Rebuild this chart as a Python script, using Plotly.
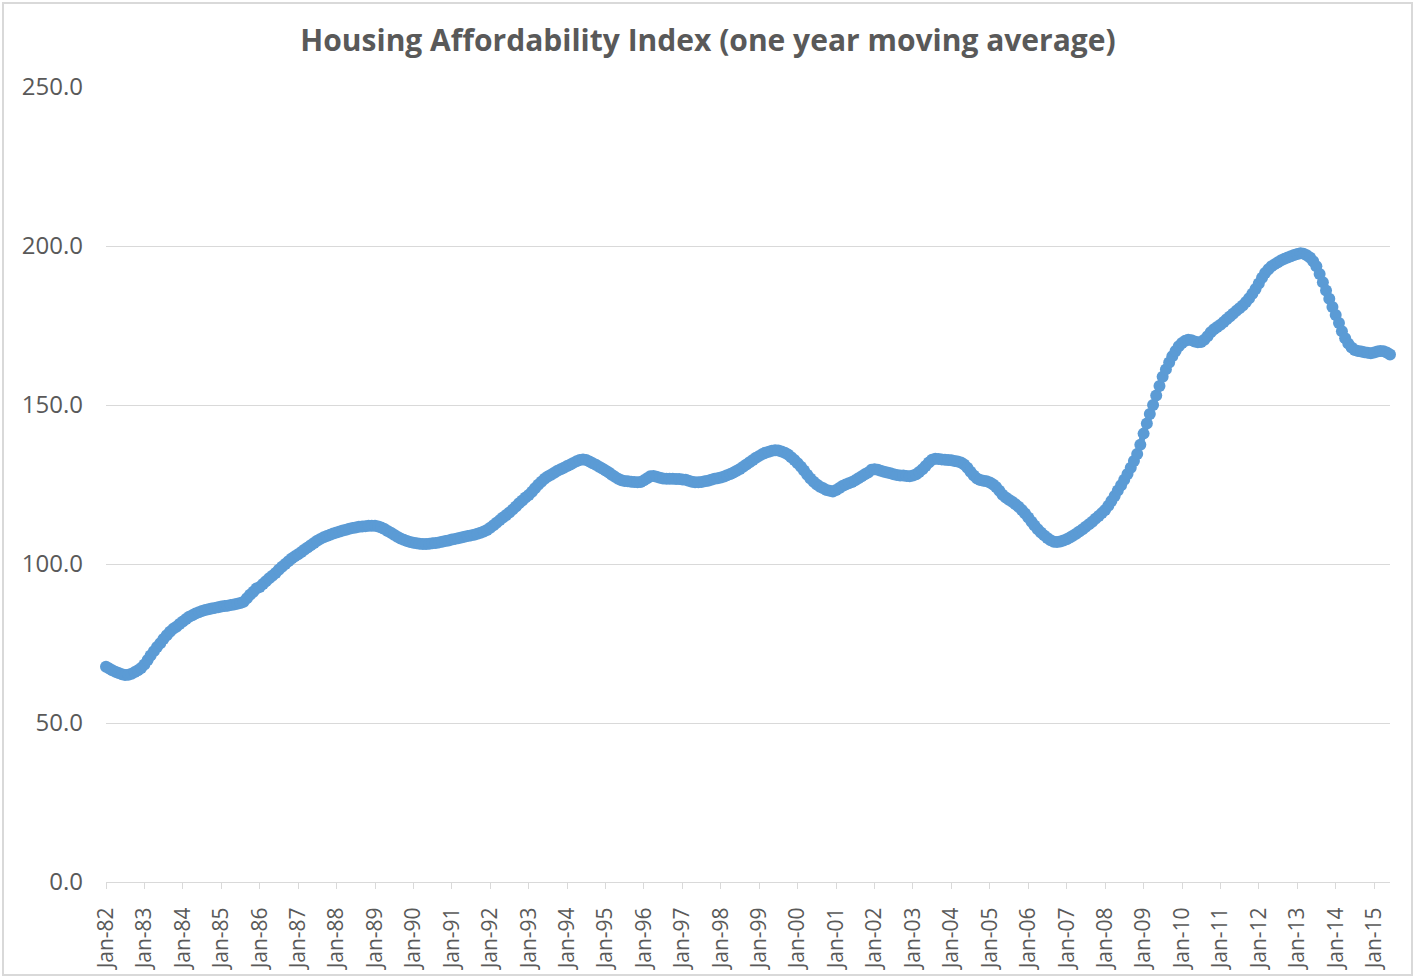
import pandas as pd
import plotly.graph_objects as go

title_text = "Housing Affordability Index (one year moving average)"
start_month = "1982-01-01"

# Monthly one-year moving average values, Jan-82 .. Jun-15 (12 per row)
index_values = [
    67.7, 67.1, 66.6, 66.1, 65.7, 65.3, 65.1, 65.2, 65.5, 66.0, 66.6, 67.3,  # 1982
    68.4, 69.8, 71.2, 72.6, 73.9, 75.1, 76.4, 77.6, 78.7, 79.6, 80.3, 81.1,  # 1983
    81.9, 82.7, 83.4, 83.9, 84.4, 84.8, 85.2, 85.5, 85.8, 86.0, 86.2, 86.4,  # 1984
    86.6, 86.8, 86.9, 87.1, 87.3, 87.5, 87.7, 88.1, 89.2, 90.3, 91.3, 92.3,  # 1985
    92.8, 93.7, 94.6, 95.5, 96.3, 97.2, 98.2, 99.1, 100.0, 100.9, 101.7, 102.4,  # 1986
    103.1, 103.8, 104.5, 105.2, 105.9, 106.6, 107.3, 107.9, 108.4, 108.8, 109.2, 109.6,  # 1987
    109.9, 110.2, 110.5, 110.8, 111.1, 111.3, 111.5, 111.7, 111.8, 111.9, 112.0, 112.0,  # 1988
    112.0, 111.8, 111.5, 111.0, 110.4, 109.8, 109.2, 108.6, 108.0, 107.6, 107.2, 106.9,  # 1989
    106.7, 106.5, 106.4, 106.3, 106.3, 106.4, 106.5, 106.6, 106.8, 107.0, 107.2, 107.4,  # 1990
    107.7, 107.9, 108.1, 108.3, 108.6, 108.8, 109.0, 109.2, 109.5, 109.8, 110.2, 110.7,  # 1991
    111.4, 112.2, 113.0, 113.8, 114.6, 115.4, 116.2, 117.1, 118.1, 119.1, 120.0, 120.9,  # 1992
    121.7, 122.7, 123.8, 124.9, 125.9, 126.8, 127.5, 128.1, 128.7, 129.3, 129.8, 130.3,  # 1993
    130.8, 131.3, 131.8, 132.3, 132.7, 132.9, 132.7, 132.2, 131.7, 131.2, 130.6, 130.0,  # 1994
    129.4, 128.8, 128.1, 127.4, 126.8, 126.3, 126.1, 126.0, 125.9, 125.8, 125.7, 125.8,  # 1995
    126.3, 127.0, 127.6, 127.7, 127.4, 127.1, 126.9, 126.8, 126.8, 126.8, 126.7, 126.7,  # 1996
    126.6, 126.5, 126.2, 125.9, 125.7, 125.7, 125.8, 126.0, 126.2, 126.5, 126.8, 127.0,  # 1997
    127.2, 127.5, 127.9, 128.3, 128.8, 129.3, 129.9, 130.6, 131.3, 132.0, 132.7, 133.4,  # 1998
    134.0, 134.6, 135.0, 135.3, 135.6, 135.8, 135.7, 135.4, 135.0, 134.4, 133.6, 132.7,  # 1999
    131.7, 130.6, 129.4, 128.1, 126.9, 125.9, 125.0, 124.3, 123.8, 123.3, 123.0, 122.8,  # 2000
    123.3, 123.9, 124.5, 125.0, 125.4, 125.8, 126.3, 127.0, 127.6, 128.2, 128.8, 129.6,  # 2001
    129.8, 129.6, 129.3, 129.0, 128.8, 128.5, 128.2, 128.0, 127.8, 127.8, 127.7, 127.6,  # 2002
    127.8, 128.2, 128.9, 129.8, 130.8, 131.9, 132.8, 133.1, 133.0, 132.9, 132.8, 132.7,  # 2003
    132.6, 132.4, 132.2, 131.9, 131.3, 130.3, 129.0, 127.8, 126.9, 126.4, 126.2, 126.0,  # 2004
    125.6, 125.0, 124.2, 123.0, 121.8, 120.9, 120.2, 119.6, 118.8, 118.0, 117.0, 115.9,  # 2005
    114.6, 113.3, 112.1, 110.9, 109.9, 109.0, 108.2, 107.5, 107.0, 106.9, 107.1, 107.4,  # 2006
    107.8, 108.3, 108.9, 109.5, 110.2, 110.9, 111.7, 112.5, 113.3, 114.2, 115.1, 116.0,  # 2007
    117.0, 118.3, 119.8, 121.4, 123.1, 124.8, 126.5, 128.3, 130.3, 132.4, 134.6, 137.5,  # 2008
    141.0, 144.2, 147.2, 150.0, 153.0, 156.0, 158.9, 161.2, 163.4, 165.3, 167.0, 168.5,  # 2009
    169.5, 170.2, 170.5, 170.4, 170.0, 169.7, 169.8, 170.5, 171.6, 172.9, 173.8, 174.5,  # 2010
    175.2, 176.1, 177.0, 177.8, 178.7, 179.6, 180.4, 181.3, 182.4, 183.6, 185.0, 186.5,  # 2011
    188.2, 190.0, 191.5, 192.7, 193.6, 194.3, 194.9, 195.5, 196.0, 196.4, 196.8, 197.2,  # 2012
    197.5, 197.7, 197.6, 197.1, 196.4, 195.2, 193.6, 191.2, 188.6, 186.0, 183.4, 180.8,  # 2013
    178.3, 175.8, 173.2, 171.0, 169.3, 168.1, 167.3, 167.0, 166.8, 166.6, 166.4, 166.3,  # 2014
    166.5, 166.8, 167.0, 166.9, 166.5, 165.9,                                            # 2015
]

months = pd.date_range(start=start_month, periods=len(index_values), freq="MS")

tick_years = list(range(1982, 2016))
tick_dates = [f"{y}-01-01" for y in tick_years]
tick_labels = [f"Jan-{str(y)[2:]}" for y in tick_years]

y_ticks = [0, 50, 100, 150, 200, 250]
y_labels = [f"{v:.1f}" for v in y_ticks]

blue = "#5B9BD5"
grey_text = "#595959"
grid = "#D9D9D9"

fig = go.Figure()
fig.add_trace(go.Scatter(
    x=months, y=index_values,
    mode="lines+markers",
    line=dict(color=blue, width=6),
    marker=dict(color=blue, size=12, symbol="circle"),
    cliponaxis=False,
    showlegend=False,
    hoverinfo="x+y",
))

fig.update_layout(
    width=1416, height=979,
    margin=dict(l=106, r=26, t=87, b=97, autoexpand=False),
    paper_bgcolor="white",
    plot_bgcolor="white",
    title=dict(
        text=f"<b>{title_text}</b>",
        x=0.5, xanchor="center",
        y=1 - 40 / 979, yanchor="middle",
        font=dict(family="Open Sans, sans-serif", size=30, color=grey_text),
    ),
    xaxis=dict(
        range=[months[0], months[-1]],
        tickmode="array",
        tickvals=tick_dates,
        ticktext=tick_labels,
        tickangle=-90,
        ticks="outside",
        ticklen=6,
        tickcolor=grid,
        showline=True,
        linecolor=grid,
        linewidth=1,
        showgrid=False,
        zeroline=False,
        automargin=False,
        tickfont=dict(family="Open Sans, sans-serif", size=21, color=grey_text),
        ticklabelstandoff=10,
    ),
    yaxis=dict(
        range=[0, 250],
        tickmode="array",
        tickvals=y_ticks,
        ticktext=y_labels,
        showgrid=True,
        gridcolor=grid,
        gridwidth=1,
        zeroline=False,
        showline=False,
        ticks="",
        automargin=False,
        tickfont=dict(family="Open Sans, sans-serif", size=24, color=grey_text),
        ticklabelstandoff=22,
    ),
    shapes=[dict(
        type="rect", xref="paper", yref="paper",
        x0=(3 - 106) / 1284, x1=(1412 - 106) / 1284,
        y0=(882 - 975) / 795, y1=(882 - 3) / 795,
        line=dict(color=grid, width=2), fillcolor="rgba(0,0,0,0)",
        layer="below",
    )],
)

fig.write_html(
    "out.html",
    config={"displayModeBar": False},
    post_script="document.body.style.margin='0';document.body.style.overflow='hidden';",
)
